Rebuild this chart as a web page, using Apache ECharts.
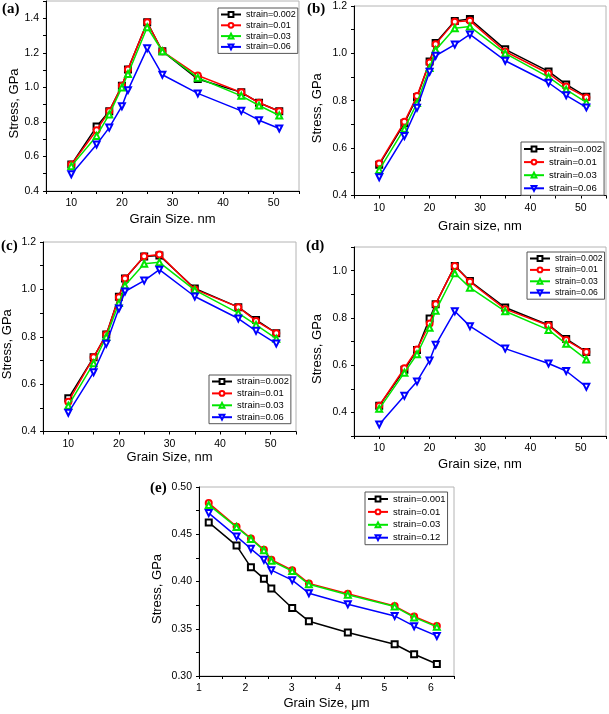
<!DOCTYPE html>
<html>
<head>
<meta charset="utf-8">
<script src="https://cdn.jsdelivr.net/npm/echarts@6/dist/echarts.min.js"></script>
<style>
html,body{margin:0;padding:0;background:#fff;}
#chart{width:609px;height:714px;}
</style>
</head>
<body>
<div id="chart"></div>
<script>
// ---------- data ----------
const grainNm = [10, 15, 17.5, 20, 21.2, 25, 28, 35, 43.6, 47.1, 51.1];
const grainUm = [1.21, 1.81, 2.12, 2.40, 2.56, 3.01, 3.37, 4.21, 5.22, 5.64, 6.13];

const namesAD = ['strain=0.002', 'strain=0.01', 'strain=0.03', 'strain=0.06'];
const namesE = ['strain=0.001', 'strain=0.01', 'strain=0.03', 'strain=0.12'];

const a002 = [0.553, 0.773, 0.862, 1.009, 1.104, 1.377, 1.209, 1.048, 0.971, 0.911, 0.862];
const a01  = [0.553, 0.752, 0.862, 1.009, 1.104, 1.377, 1.209, 1.069, 0.971, 0.911, 0.862];
const a03  = [0.544, 0.719, 0.843, 0.999, 1.077, 1.348, 1.209, 1.056, 0.951, 0.895, 0.837];
const a06  = [0.497, 0.669, 0.767, 0.891, 0.984, 1.226, 1.073, 0.965, 0.864, 0.810, 0.762];

const b002 = [0.530, 0.705, 0.815, 0.966, 1.044, 1.137, 1.145, 1.017, 0.924, 0.869, 0.817];
const b01  = [0.535, 0.711, 0.820, 0.962, 1.039, 1.134, 1.138, 1.008, 0.915, 0.860, 0.814];
const b03  = [0.508, 0.682, 0.790, 0.938, 1.014, 1.106, 1.113, 1.000, 0.900, 0.847, 0.793];
const b06  = [0.477, 0.651, 0.770, 0.922, 0.990, 1.037, 1.080, 0.969, 0.876, 0.823, 0.772];

const c002 = [0.540, 0.713, 0.809, 0.969, 1.046, 1.139, 1.143, 1.004, 0.925, 0.871, 0.815];
const c01  = [0.526, 0.713, 0.809, 0.967, 1.046, 1.140, 1.147, 1.000, 0.925, 0.867, 0.815];
const c03  = [0.509, 0.688, 0.800, 0.942, 1.016, 1.108, 1.114, 0.997, 0.900, 0.850, 0.792];
const c06  = [0.479, 0.650, 0.770, 0.919, 0.991, 1.037, 1.083, 0.970, 0.877, 0.825, 0.771];

const d002 = [0.428, 0.580, 0.664, 0.797, 0.858, 1.020, 0.956, 0.844, 0.770, 0.711, 0.656];
const d01  = [0.428, 0.587, 0.666, 0.776, 0.858, 1.020, 0.953, 0.837, 0.768, 0.706, 0.656];
const d03  = [0.415, 0.568, 0.646, 0.758, 0.830, 0.989, 0.928, 0.828, 0.749, 0.690, 0.624];
const d06  = [0.349, 0.470, 0.531, 0.620, 0.686, 0.828, 0.765, 0.670, 0.607, 0.575, 0.508];

const e001 = [0.4625, 0.438, 0.415, 0.403, 0.3926, 0.372, 0.358, 0.346, 0.3336, 0.323, 0.3127];
const e01  = [0.483, 0.458, 0.4456, 0.4336, 0.423, 0.412, 0.398, 0.387, 0.374, 0.363, 0.353];
const e03  = [0.481, 0.4576, 0.445, 0.433, 0.422, 0.411, 0.397, 0.386, 0.3735, 0.362, 0.352];
const e12  = [0.4724, 0.4477, 0.4346, 0.423, 0.412, 0.4014, 0.3876, 0.376, 0.3636, 0.3527, 0.3424];

// ---------- styling / layout ----------
const FONT = '"Liberation Sans", Arial, sans-serif';
const COLORS = ['#000000', '#ff0000', '#00e600', '#0000ff'];
const SYMBOLS = ['emptyRect', 'emptyCircle', 'emptyTriangle', 'emptyTriangle'];
const ROTATE = [0, 0, 0, 180];

const panels = [
  {label:'(a)', lx:2, ly:2, grid:{left:46, top:1, width:253, height:190},
   x:grainNm, ys:[a002,a01,a03,a06], names:namesAD,
   xmin:5, xmax:55, xint:5, ymin:0.4, ymax:1.5, yint:0.1,
   xname:'Grain Size. nm', xgap:22, ygap:25,
   legend:{left:218, top:8, fs:9, gap:1.8}},
  {label:'(b)', lx:307, ly:2, grid:{left:354, top:6, width:254, height:189.5},
   x:grainNm, ys:[b002,b01,b03,b06], names:namesAD,
   xmin:5, xmax:55, xint:5, ymin:0.4, ymax:1.2, yint:0.1,
   xname:'Grain size, nm', xgap:24, ygap:30,
   legend:{left:521, top:142, fs:9.6, gap:3.1}},
  {label:'(c)', lx:1, ly:239, grid:{left:43, top:242, width:253, height:189.5},
   x:grainNm, ys:[c002,c01,c03,c06], names:namesAD,
   xmin:5, xmax:55, xint:5, ymin:0.4, ymax:1.2, yint:0.1,
   xname:'Grain Size, nm', xgap:19, ygap:29,
   legend:{left:209, top:375, fs:9.4, gap:2.9}},
  {label:'(d)', lx:306, ly:239, grid:{left:354, top:247, width:254, height:189},
   x:grainNm, ys:[d002,d01,d03,d06], names:namesAD,
   xmin:5, xmax:55, xint:5, ymin:0.3, ymax:1.1, yint:0.1,
   xname:'Grain size, nm', xgap:22, ygap:30,
   legend:{left:527, top:252, fs:8.6, gap:2.4}},
  {label:'(e)', lx:150, ly:481, grid:{left:199, top:487, width:255, height:189},
   x:grainUm, ys:[e001,e01,e03,e12], names:namesE,
   xmin:1, xmax:6.5, xint:0.5, ymin:0.3, ymax:0.5, yint:0.025,
   xname:'Grain Size, \u03bcm', xgap:21, ygap:35,
   legend:{left:365, top:492, fs:9.5, gap:2.9}}
];

function xLabel(p) {
  return function (v) {
    if (p.xint === 5) {
      const r = Math.round(v);
      return (r % 10 === 0 && r >= 10 && r <= 50) ? String(r) : '';
    }
    const r = Math.round(v * 2);
    return (r % 2 === 0 && v <= 6.01) ? String(r / 2) : '';
  };
}
function yLabel(p) {
  return function (v) {
    if (p.yint === 0.1) {
      const r = Math.round(v * 10);
      return r % 2 === 0 ? (r / 10).toFixed(1) : '';
    }
    const r = Math.round(v * 40);
    return r % 2 === 0 ? (r / 40).toFixed(2) : '';
  };
}

const option = {
  animation: false,
  backgroundColor: '#ffffff',
  textStyle: {fontFamily: FONT},
  grid: [], xAxis: [], yAxis: [], series: [], legend: [], graphic: []
};

panels.forEach(function (p, i) {
  option.grid.push(Object.assign({show:true, borderColor:'#b4b4b4', borderWidth:1, backgroundColor:'transparent'}, p.grid));
  const axisCommon = {
    gridIndex: i, type: 'value', nameLocation: 'middle',
    axisLine: {show: true, onZero: false, lineStyle: {color: '#000', width: 1}},
    axisTick: {show: true, inside: false, length: 3, lineStyle: {color: '#000', width: 1}},
    splitLine: {show: false},
    nameTextStyle: {fontSize: 13, color: '#000', fontFamily: FONT}
  };
  option.xAxis.push(Object.assign({}, axisCommon, {
    min: p.xmin, max: p.xmax, interval: p.xint,
    name: p.xname, nameGap: p.xgap,
    axisLabel: {fontSize: 10.5, color: '#000', fontFamily: FONT, margin: 7, formatter: xLabel(p)}
  }));
  option.yAxis.push(Object.assign({}, axisCommon, {
    min: p.ymin, max: p.ymax, interval: p.yint,
    name: 'Stress, GPa', nameGap: p.ygap,
    nameTextStyle: {fontSize: 13, color: '#000', fontFamily: FONT, padding: [0, 15, 0, 0]},
    axisLabel: {fontSize: 10.5, color: '#000', fontFamily: FONT, margin: 7, formatter: yLabel(p)}
  }));
  p.ys.forEach(function (ys, k) {
    option.series.push({
      type: 'line', name: p.names[k], xAxisIndex: i, yAxisIndex: i,
      data: p.x.map(function (x, j) { return [x, ys[j]]; }),
      symbol: SYMBOLS[k], symbolRotate: ROTATE[k], symbolSize: 6,
      color: COLORS[k],
      lineStyle: {color: COLORS[k], width: 1.5},
      itemStyle: {color: COLORS[k], borderColor: COLORS[k], borderWidth: 1},
      z: 2 + k
    });
  });
  option.legend.push({
    orient: 'vertical', left: p.legend.left, top: p.legend.top,
    data: p.names, itemWidth: 20, itemHeight: 6, itemGap: p.legend.gap,
    padding: [2, 2, 2, 2], borderColor: '#555', borderWidth: 1, backgroundColor: '#fff',
    selectedMode: false,
    textStyle: {fontSize: p.legend.fs, color: '#000', fontFamily: FONT, lineHeight: 9}
  });
  option.graphic.push({
    type: 'text', left: p.lx, top: p.ly, z: 100,
    style: {text: p.label, font: 'bold 15px "Liberation Serif", "Times New Roman", serif', fill: '#000'}
  });
});

const chart = echarts.init(document.getElementById('chart'), null, {renderer: 'canvas'});
chart.setOption(option);
</script>
</body>
</html>
